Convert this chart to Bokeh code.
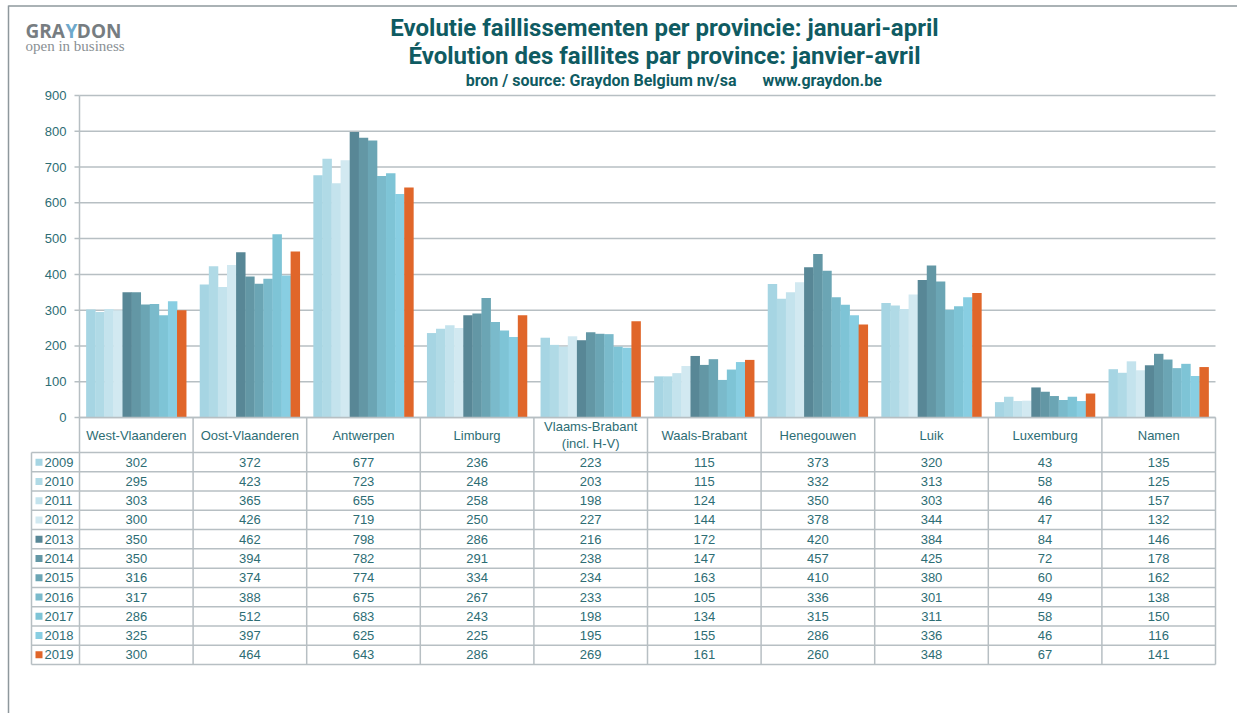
from bokeh.plotting import figure
from bokeh.models import Range1d, ColumnDataSource
from bokeh.embed import file_html
from bokeh.resources import INLINE
from bokeh.core.properties import value

provinces = ["West-Vlaanderen", "Oost-Vlaanderen", "Antwerpen", "Limburg",
             "Vlaams-Brabant\n(incl. H-V)", "Waals-Brabant", "Henegouwen",
             "Luik", "Luxemburg", "Namen"]
years = ["2009", "2010", "2011", "2012", "2013", "2014", "2015", "2016",
         "2017", "2018", "2019"]
v2009 = [302, 372, 677, 236, 223, 115, 373, 320, 43, 135]
v2010 = [295, 423, 723, 248, 203, 115, 332, 313, 58, 125]
v2011 = [303, 365, 655, 258, 198, 124, 350, 303, 46, 157]
v2012 = [300, 426, 719, 250, 227, 144, 378, 344, 47, 132]
v2013 = [350, 462, 798, 286, 216, 172, 420, 384, 84, 146]
v2014 = [350, 394, 782, 291, 238, 147, 457, 425, 72, 178]
v2015 = [316, 374, 774, 334, 234, 163, 410, 380, 60, 162]
v2016 = [317, 388, 675, 267, 233, 105, 336, 301, 49, 138]
v2017 = [286, 512, 683, 243, 198, 134, 315, 311, 58, 150]
v2018 = [325, 397, 625, 225, 195, 155, 286, 336, 46, 116]
v2019 = [300, 464, 643, 286, 269, 161, 260, 348, 67, 141]
series = [v2009, v2010, v2011, v2012, v2013, v2014, v2015, v2016, v2017, v2018, v2019]
colors = ["#a6d5e3", "#b0dae6", "#c4e3ed", "#d2e9f1", "#588796", "#6397a5",
          "#6ba5b4", "#7abacb", "#7ec4d6", "#88cee2", "#e0662a"]
yticks = [0, 100, 200, 300, 400, 500, 600, 700, 800, 900]

TEAL = "#2d6d74"
GRID = "#b7bfc3"
FRAME = "#8e989d"
FONT = "Liberation Sans"
TITLE_C = "#0f5b62"
LOGO_C = "#777d81"

W, H = 1237, 713
# layout: pixel geometry of the plot area (page pixels)
AX_L, AX_R, AX_T, AX_B = 79.0, 1215.0, 95.0, 417.0
NCAT = len(provinces)
CAT = (AX_R - AX_L) / NCAT
K = 900.0 / (AX_B - AX_T)


def px(xp):
    return (xp - AX_L) / CAT


def py(yp):
    return (AX_B - yp) * K


p = figure(width=W, height=H, x_range=Range1d(px(0), px(W)), y_range=Range1d(py(H), py(0)),
           output_backend="svg", toolbar_location=None, x_axis_location=None,
           y_axis_location=None, title=None, min_border=0)
p.outline_line_color = None
p.background_fill_color = "white"
p.border_fill_color = "white"
p.grid.visible = False

# page frame
p.segment(x0=[px(8), px(8)], y0=[py(5.5), py(5)], x1=[px(W), px(8)], y1=[py(5.5), py(H)],
          line_color=FRAME, line_width=1.5)

# horizontal grid lines (value ticks)
nt = len(yticks)
p.segment(x0=[0] * nt, y0=yticks, x1=[NCAT] * nt, y1=yticks, line_color=GRID, line_width=1.5)
# y axis line, ticks and labels
p.segment(x0=[0], y0=[0], x1=[0], y1=[900], line_color=GRID, line_width=1.5)
p.segment(x0=[px(AX_L - 5)] * nt, y0=yticks, x1=[0] * nt, y1=yticks,
          line_color=GRID, line_width=1.5)
p.text(x=[px(AX_L - 13)] * nt, y=yticks, text=[str(v) for v in yticks],
       text_align="right", text_baseline="middle", text_font=value(FONT),
       text_font_size="13px", text_color=TEAL)

# bars
NG = len(years)
BAR_W = 0.08
for j in range(NG):
    xs = [i + 0.5 + (j - (NG - 1) / 2.0) * BAR_W for i in range(NCAT)]
    src = ColumnDataSource(dict(x=xs, top=series[j]))
    p.vbar(x="x", top="top", width=BAR_W * 1.04, bottom=0, source=src,
           fill_color=colors[j], line_color=None)


def label(xp, yp, txt, size, color, font, align="center", style="bold"):
    p.text(x=[px(xp)], y=[py(yp)], text=[txt], text_align=align, text_baseline="middle",
           text_font=value(font), text_font_style=style, text_font_size=size,
           text_color=color)


# titles
label(664, 27, "Evolutie faillissementen per provincie: januari-april", "24px", TITLE_C, "Roboto")
label(664, 55.5, "Évolution des faillites par province: janvier-avril", "24px", TITLE_C, "Roboto")
label(736, 80, "bron / source: Graydon Belgium nv/sa", "16px", TITLE_C, "Roboto", align="right")
label(762, 80, "www.graydon.be", "16px", TITLE_C, "Roboto", align="left")

# logo
label(25, 30, "GRA", "19px", LOGO_C, "Open Sans", align="left")
label(71, 30, "Y", "19px", "#6ea9cc", "Open Sans")
label(121, 30, "DON", "19px", LOGO_C, "Open Sans", align="right")
label(25, 45, "open in business", "15px", "#8a9094", "Liberation Serif", align="left", style="normal")

# table
HDR_B = 452.0
TAB_B = 664.0
ROW = (TAB_B - HDR_B) / NG
LEG_L = 31.0
hx0 = [0.0] + [px(LEG_L)] * (NG + 1)
hx1 = [float(NCAT)] * (NG + 2)
hy = [0.0] + [py(HDR_B + ROW * k) for k in range(NG + 1)]
p.segment(x0=hx0, y0=hy, x1=hx1, y1=hy, line_color=GRID, line_width=1.5)
vx = [float(i) for i in range(NCAT + 1)] + [px(LEG_L)]
vy0 = [0.0] * (NCAT + 1) + [py(HDR_B)]
vy1 = [py(TAB_B)] * (NCAT + 2)
p.segment(x0=vx, y0=vy0, x1=vx, y1=vy1, line_color=GRID, line_width=1.5)

p.text(x=[i + 0.5 for i in range(NCAT)], y=[py((AX_B + HDR_B) / 2.0)] * NCAT,
       text=provinces, text_align="center", text_baseline="middle",
       text_font=value(FONT), text_font_size="13px", text_color=TEAL,
       text_line_height=1.15)
for j in range(NG):
    yc = py(HDR_B + ROW * (j + 0.5))
    p.text(x=[i + 0.5 for i in range(NCAT)], y=[yc] * NCAT,
           text=[str(v) for v in series[j]], text_align="center", text_baseline="middle",
           text_font=value(FONT), text_font_size="13px", text_color=TEAL)
    p.scatter(x=[px(38.5)], y=[yc], marker="square", size=7,
              fill_color=colors[j], line_color=None)
    p.text(x=[px(44)], y=[yc], text=[years[j]], text_align="left",
           text_baseline="middle", text_font=value(FONT), text_font_size="13px",
           text_color=TEAL)

open("out.html", "w").write(file_html(p, INLINE))
